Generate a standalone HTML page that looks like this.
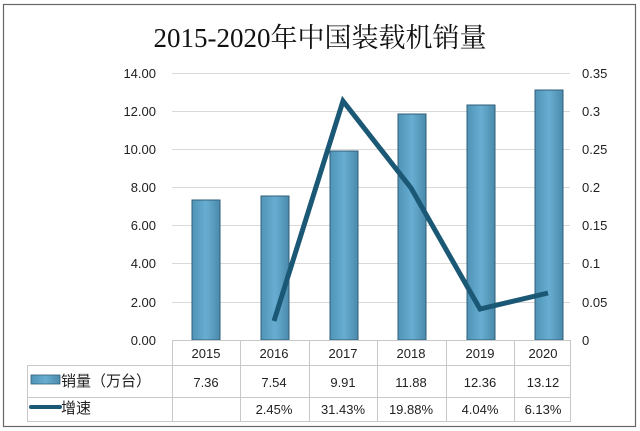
<!DOCTYPE html><html><head><meta charset="utf-8"><style>
body{margin:0;background:#fff;}
svg{display:block;font-family:"Liberation Sans","Noto Sans CJK SC",sans-serif;}
</style></head><body>
<svg width="640" height="431" viewBox="0 0 640 431" xmlns="http://www.w3.org/2000/svg">
<defs><linearGradient id="g" x1="0" x2="1" y1="0" y2="0"><stop offset="0" stop-color="#4f93b6"/><stop offset="0.5" stop-color="#68aed2"/><stop offset="1" stop-color="#4b8aab"/></linearGradient></defs>
<rect x="3.5" y="4.5" width="632" height="422" fill="#fff" stroke="#666" stroke-width="1.2"/>
<text x="320" y="47" text-anchor="middle" font-family="Liberation Serif,'Noto Serif CJK SC',serif" font-size="27" fill="#111">2015-2020年中国装载机销量</text>
<g stroke="#d9d9d9" stroke-width="1">
<line x1="172" x2="570" y1="73.5" y2="73.5"/><line x1="172" x2="570" y1="111.5" y2="111.5"/><line x1="172" x2="570" y1="149.5" y2="149.5"/><line x1="172" x2="570" y1="187.5" y2="187.5"/><line x1="172" x2="570" y1="225.5" y2="225.5"/><line x1="172" x2="570" y1="263.5" y2="263.5"/><line x1="172" x2="570" y1="302.5" y2="302.5"/>
</g>
<g font-size="13" fill="#222" text-anchor="end">
<text x="156" y="78">14.00</text><text x="156" y="116">12.00</text><text x="156" y="154">10.00</text><text x="156" y="192">8.00</text><text x="156" y="230">6.00</text><text x="156" y="268">4.00</text><text x="156" y="307">2.00</text><text x="156" y="345">0.00</text>
</g>
<g font-size="13" fill="#222">
<text x="582" y="78">0.35</text><text x="582" y="116">0.3</text><text x="582" y="154">0.25</text><text x="582" y="192">0.2</text><text x="582" y="230">0.15</text><text x="582" y="268">0.1</text><text x="582" y="307">0.05</text><text x="582" y="345">0</text>
</g>
<g fill="url(#g)" stroke="#2f5f78" stroke-width="1">
<rect x="192" y="200" width="28" height="140"/>
<rect x="261" y="196" width="28" height="144"/>
<rect x="330" y="151" width="28" height="189"/>
<rect x="398" y="114" width="28" height="226"/>
<rect x="467" y="105" width="28" height="235"/>
<rect x="535" y="90" width="28" height="250"/>
</g>
<polyline points="274,321 343,101 411,188 480,309 548,293" fill="none" stroke="#1b5876" stroke-width="5" stroke-linejoin="miter"/>
<g stroke="#c8c8c8" stroke-width="1" fill="none">
<line x1="172" x2="570" y1="340.5" y2="340.5"/>
<line x1="27" x2="570" y1="365.5" y2="365.5"/>
<line x1="27" x2="570" y1="397.5" y2="397.5"/>
<line x1="27" x2="570" y1="421.5" y2="421.5"/>
<line x1="27.5" x2="27.5" y1="365" y2="422"/>
<line x1="172.5" x2="172.5" y1="340" y2="422"/><line x1="240.5" x2="240.5" y1="340" y2="422"/><line x1="309.5" x2="309.5" y1="340" y2="422"/><line x1="377.5" x2="377.5" y1="340" y2="422"/><line x1="446.5" x2="446.5" y1="340" y2="422"/><line x1="514.5" x2="514.5" y1="340" y2="422"/><line x1="570.5" x2="570.5" y1="340" y2="422"/>
</g>
<g font-size="13" fill="#222" text-anchor="middle">
<text x="206" y="358">2015</text><text x="274" y="358">2016</text><text x="343" y="358">2017</text><text x="411" y="358">2018</text><text x="480" y="358">2019</text><text x="543" y="358">2020</text>
<text x="206" y="387">7.36</text><text x="274" y="387">7.54</text><text x="343" y="387">9.91</text><text x="411" y="387">11.88</text><text x="480" y="387">12.36</text><text x="543" y="387">13.12</text>
<text x="274" y="414">2.45%</text><text x="343" y="414">31.43%</text><text x="411" y="414">19.88%</text><text x="480" y="414">4.04%</text><text x="543" y="414">6.13%</text>
</g>
<rect x="31" y="375" width="29" height="9" fill="url(#g)" stroke="#2f5f78" stroke-width="0.8"/>
<text x="61" y="386" font-size="15" fill="#222">销量（万台）</text>
<line x1="31" x2="60" y1="407" y2="407" stroke="#1b5876" stroke-width="4" stroke-linecap="round"/>
<text x="61" y="413" font-size="15" fill="#222">增速</text>
</svg>
</body></html>
